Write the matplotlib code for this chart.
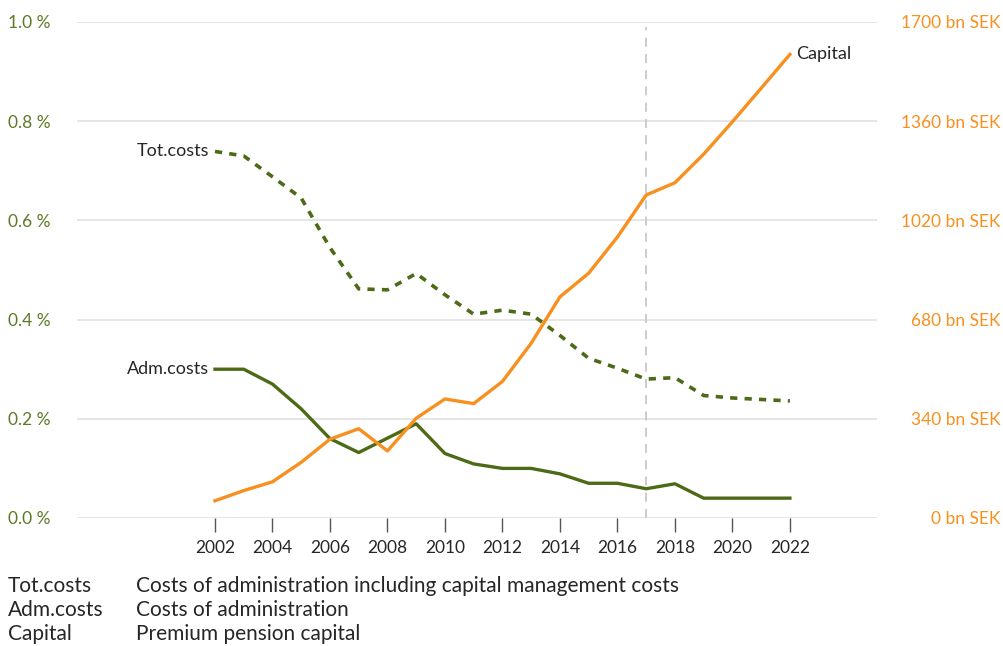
import matplotlib.pyplot as plt
import matplotlib.ticker as mticker

years = list(range(2002, 2023))
tot_costs = [0.739, 0.730, 0.688, 0.645, 0.545, 0.462, 0.460, 0.493, 0.450, 0.411,
             0.419, 0.411, 0.368, 0.322, 0.302, 0.280, 0.283, 0.247, 0.242, 0.239, 0.236]
adm_costs = [0.30, 0.30, 0.27, 0.22, 0.16, 0.132, 0.161, 0.19, 0.13, 0.109,
             0.10, 0.10, 0.089, 0.07, 0.07, 0.059, 0.069, 0.04, 0.04, 0.04, 0.04]
capital = [59, 94, 124, 191, 270, 306, 230, 342, 408, 392,
           468, 599, 758, 839, 963, 1107, 1149, 1247, 1358, 1473, 1589]

left_ticks = [0.0, 0.2, 0.4, 0.6, 0.8, 1.0]
right_ticks = [0, 340, 680, 1020, 1360, 1700]
legend_rows = [("Tot.costs", "Costs of administration including capital management costs"),
               ("Adm.costs", "Costs of administration"),
               ("Capital", "Premium pension capital")]

green = '#4d6a17'
green_txt = '#5c7a26'
orange = '#f7901e'
dark = '#262626'

plt.rcParams['font.family'] = ['Lato', 'DejaVu Sans']

fig = plt.figure(figsize=(10.04, 6.46), dpi=100)
ax = fig.add_axes([77 / 1004, 1 - 518 / 646, 800 / 1004, 496 / 646])
ax2 = ax.twinx()

# grid + axis setup
ax.set_xlim(1997.2, 2025.03)
ax.set_ylim(0, 1.0)
ax2.set_ylim(0, 1700)
for a in (ax, ax2):
    for s in a.spines.values():
        s.set_visible(False)
ax.set_yticks(left_ticks)
ax.yaxis.set_major_formatter(mticker.FuncFormatter(lambda v, p: f"{v:.1f} %"))
ax.tick_params(axis='y', length=0, pad=19, labelsize=12.5, labelcolor=green_txt)
ax.grid(axis='y', color='#e2e2e2', lw=1.2)
ax.set_axisbelow(True)
ax.set_xticks(years[::2])
ax.tick_params(axis='x', length=10, width=1, color='#555555', labelsize=12.5,
               labelcolor=dark, pad=6)

ax2.set_yticks(right_ticks)
ax2.set_yticklabels([f"{v} bn SEK" for v in right_ticks])
ax2.tick_params(axis='y', length=0, pad=89, labelsize=12.5, labelcolor=orange)
for lbl in ax2.get_yticklabels():
    lbl.set_horizontalalignment('right')

# 2017 marker line
ax.axvline(2017, ymin=0, ymax=0.99, color='#c8c8c8', lw=1.3, ls=(0, (5, 4)))

ax.plot(years, tot_costs, color=green, lw=2.6, ls=(0, (2.0, 2.0)))
ax.plot(years, adm_costs, color=green, lw=2.4)
ax2.plot(years, capital, color=orange, lw=2.4)

ax.text(years[0] - 0.2, tot_costs[0], "Tot.costs", ha='right', va='center',
        fontsize=13, color=dark)
ax.text(years[0] - 0.2, adm_costs[0], "Adm.costs", ha='right', va='center',
        fontsize=13, color=dark)
ax2.text(years[-1] + 0.2, capital[-1], "Capital", ha='left', va='center',
         fontsize=13, color=dark)

# explanation rows under the chart
for i, (k, desc) in enumerate(legend_rows):
    y = 1 - (586 + 24 * i) / 646
    fig.text(8 / 1004, y, k, ha='left', va='center', fontsize=15, color=dark)
    fig.text(136 / 1004, y, desc, ha='left', va='center', fontsize=15, color=dark)

fig.savefig('out.png', dpi=100)
